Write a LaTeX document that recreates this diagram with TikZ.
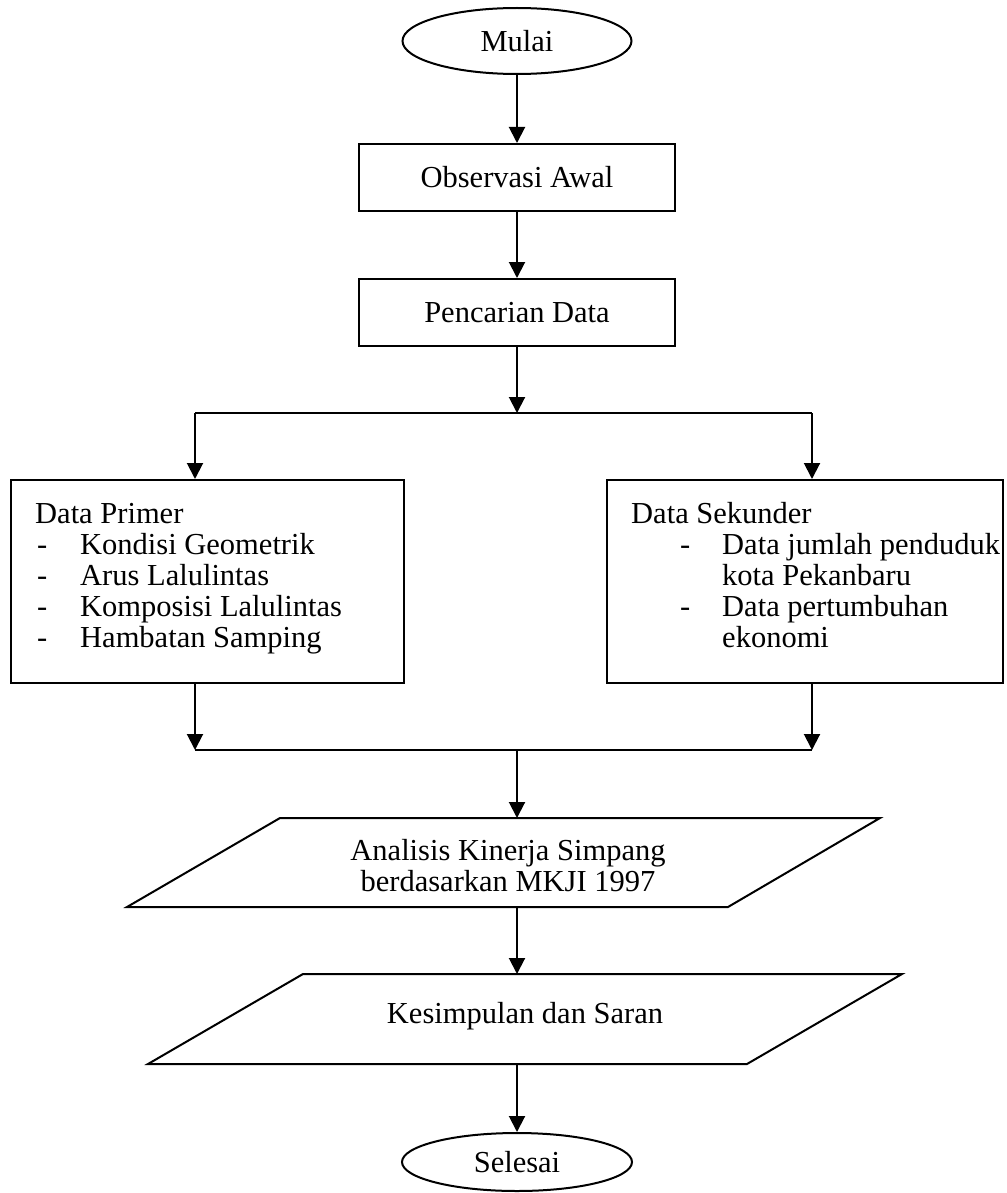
\documentclass[tikz,border=0pt]{standalone}
\usepackage{fontspec}
\setmainfont{Liberation Serif}
\usetikzlibrary{shapes.geometric,arrows.meta}
\begin{document}
\begin{tikzpicture}[x=1pt,y=-1pt,
  every node/.style={font=\fontsize{30.5}{31}\selectfont},
  conn/.style={line width=2pt},
  arr/.style={line width=2pt,-{Triangle[length=16pt,width=16pt]}},
  term/.style={draw,line width=2pt,ellipse,inner sep=0pt,minimum width=229pt,minimum height=66pt},
  proc/.style={draw,line width=2pt,rectangle,inner sep=0pt,minimum width=316pt,minimum height=67pt},
  bigbox/.style={draw,line width=2pt,rectangle,inner sep=0pt,minimum height=203pt},
  para/.style={draw,line width=2pt,line join=miter},
  txt/.style={inner sep=0pt,anchor=base west},
  ctxt/.style={inner sep=0pt,align=center}]
\useasboundingbox (0,0) rectangle (1006,1193);

% terminals and processes
\node[term] (mulai) at (517,41) {Mulai};
\node[proc] (obs) at (517,177.5) {Observasi Awal};
\node[proc] (pen) at (517,312.5) {Pencarian Data};

% branch line
\coordinate (split) at (517,413);
\coordinate (jl) at (195,413);
\coordinate (jr) at (812,413);

% data boxes
\node[bigbox,minimum width=393pt] (prim) at (207.5,581.5) {};
\node[bigbox,minimum width=396pt] (sek) at (805,581.5) {};

\node[txt] (p0) at (35,523) {Data Primer};
\node[txt] (p1d) at (37,554) {-};
\node[txt] (p1) at (80,554) {Kondisi Geometrik};
\node[txt] (p2d) at (37,585) {-};
\node[txt] (p2) at (80,585) {Arus Lalulintas};
\node[txt] (p3d) at (37,616) {-};
\node[txt] (p3) at (80,616) {Komposisi Lalulintas};
\node[txt] (p4d) at (37,647) {-};
\node[txt] (p4) at (80,647) {Hambatan Samping};

\node[txt] (s0) at (631,523) {Data Sekunder};
\node[txt] (s1d) at (680,554) {-};
\node[txt] (s1) at (722,554) {Data jumlah penduduk};
\node[txt] (s2) at (722,585) {kota Pekanbaru};
\node[txt] (s3d) at (680,616) {-};
\node[txt] (s3) at (722,616) {Data pertumbuhan};
\node[txt] (s4) at (722,647) {ekonomi};

% merge line
\coordinate (ml) at (195,750);
\coordinate (mr) at (812,750);
\coordinate (merge) at (517,750);

% parallelograms
\draw[para] (280,818) -- (880,818) -- (728,907) -- (127,907) -- cycle;
\node[ctxt] (ana) at (508,866) {Analisis Kinerja Simpang\\berdasarkan MKJI 1997};
\coordinate (anatop) at (517,818);
\coordinate (anabot) at (517,907);

\draw[para] (303,974) -- (902,974) -- (747,1064) -- (148,1064) -- cycle;
\node[ctxt] (kes) at (525,1016) {Kesimpulan dan Saran};
\coordinate (kestop) at (517,974);
\coordinate (kesbot) at (517,1064);

\node[term,minimum width=230pt,minimum height=58pt] (sel) at (517,1162) {Selesai};

% connectors
\draw[arr] (mulai.south) -- (obs.north);
\draw[arr] (obs.south) -- (pen.north);
\draw[arr] (pen.south) -- (split);
\draw[conn] (jl) -- (jr);
\draw[arr] (jl) -- (jl |- prim.north);
\draw[arr] (jr) -- (jr |- sek.north);
\draw[arr] (prim.south -| ml) -- (ml);
\draw[arr] (sek.south -| mr) -- (mr);
\draw[conn] (ml) -- (mr);
\draw[arr] (merge) -- (anatop);
\draw[arr] (anabot) -- (kestop);
\draw[arr] (kesbot) -- (sel.north);
\end{tikzpicture}
\end{document}
